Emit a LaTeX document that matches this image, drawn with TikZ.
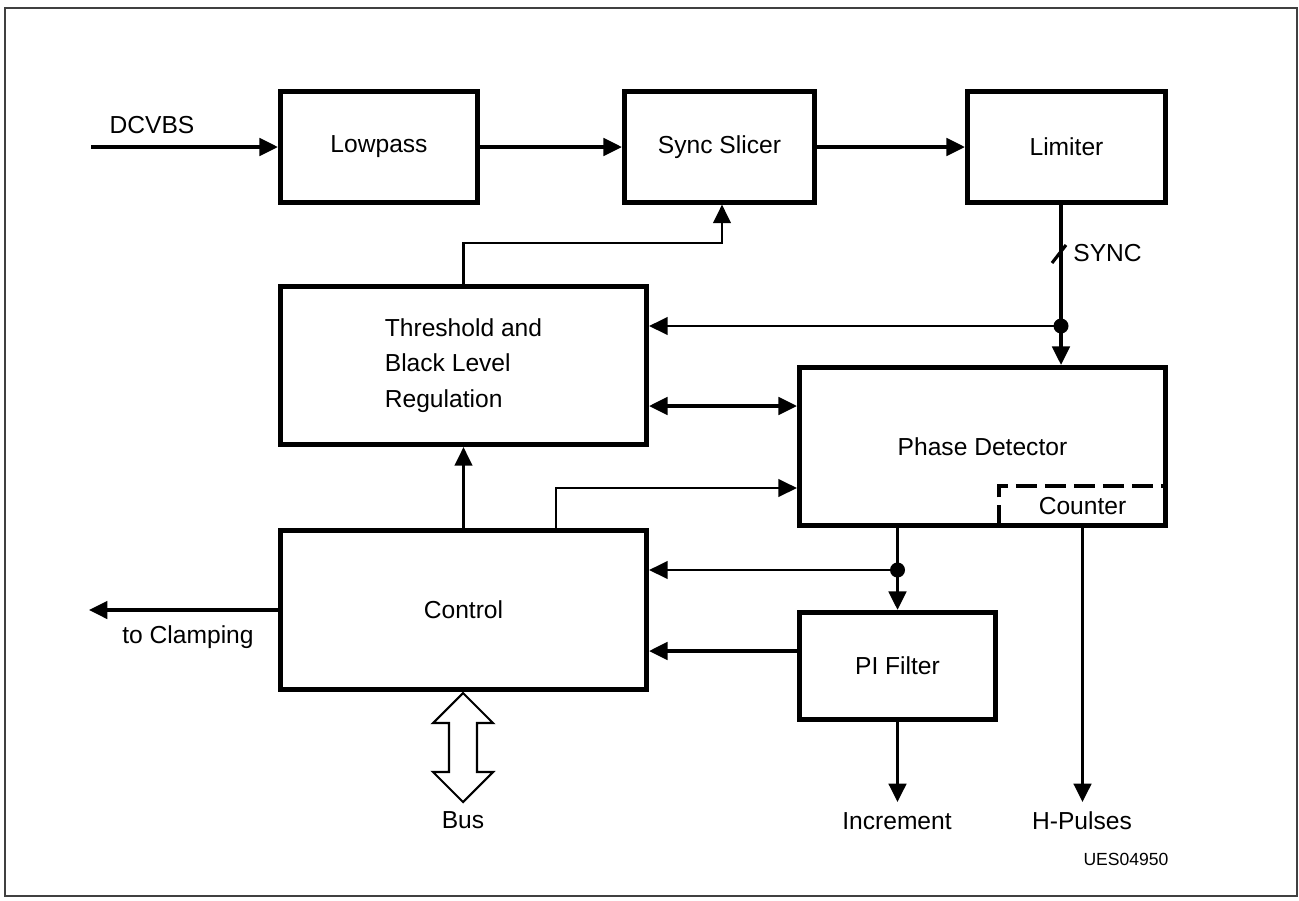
\documentclass[tikz,border=0pt]{standalone}
\usepackage{fontspec}
\setmainfont{Liberation Sans}
\usetikzlibrary{arrows.meta,calc}

\begin{document}
\begin{tikzpicture}[x=0.02cm, y=-0.02cm,
				>={Triangle[length=10.5pt,width=10pt]},
				font=\fontsize{14}{20}\selectfont,
				block/.style = {draw, line width=2.7pt, inner sep=0pt, align=center},
				wire/.style = {line width=1.8pt},
				thinwire/.style = {line width=1.2pt},
				counterline/.style = {line width=2.3pt, dash pattern=on 12pt off 4.5pt},
				dot/.style = {circle, fill, inner sep=0pt, minimum size=0.3cm},
				lbl/.style = {inner sep=0pt}
			]
			\def\busoutline{
				(463,693)
				(493,723)
				(477,723)
				(477,772)
				(493,772)
				(463,802)
				(433,772)
				(449,772)
				(449,723)
				(433,723)
			}
			\useasboundingbox (0,0) rectangle (1299,900);
			\draw[line width=0.9pt, black!75] (5,8) rectangle (1297,896);

			% blocks
			\node[block, minimum width=3.95cm, minimum height=2.21cm] (lowpass) at (379,147) {Lowpass};
			\node[block, minimum width=3.81cm, minimum height=2.21cm] (slicer) at (719.5,147) {Sync Slicer};
			\node[block, minimum width=3.97cm, minimum height=2.21cm] (limiter) at (1066.5,147) {Limiter};
			\node[block, minimum width=7.33cm, minimum height=3.17cm, align=left] (thresh) at (463.5,365.5)
				{Threshold and\\Black Level\\Regulation};
			\node[block, minimum width=7.33cm, minimum height=3.17cm] (phase) at (982.5,446.5) {Phase Detector};
			\node[block, minimum width=7.33cm, minimum height=3.19cm] (control) at (463.5,610) {Control};
			\node[block, minimum width=3.93cm, minimum height=2.15cm] (pi) at (897.5,666) {PI Filter};
			\node[minimum width=3.34cm, minimum height=0.8cm, inner sep=0pt] (counter) at (1082.5,506) {Counter};
			\draw[counterline] (counter.south west) |- (counter.north east);

			% signal path
			\coordinate (in) at (91,147);
			\node[lbl] (dcvbs) at (152,125) {DCVBS};
			\draw[wire,->] (in) -- (lowpass);
			\draw[wire,->] (lowpass) -- (slicer);
			\draw[wire,->] (slicer) -- (limiter);

			\coordinate (sync) at (1061,326);
			\draw[wire] (limiter.south -| sync) -- (sync);
			\draw[wire,->] (sync) -- (sync |- phase.north);
			\draw[thinwire,->] (sync) -- (sync -| thresh.east);
			\node[dot] (syncdot) at (sync) {};
			\draw[wire] (1052,263) -- (1066,245);
			\node[lbl, anchor=west] (synclbl) at (1073,253) {SYNC};

			\coordinate (fb) at (722,243);
			\draw[thinwire,->] (thresh.north) |- (fb) -- (fb |- slicer.south);

			\coordinate (mid) at ($(thresh.east)!.5!(phase.west)$);
			\draw[wire,<->] (thresh.east |- mid) -- (phase.west |- mid);

			\draw[thinwire,->] (control.north) -- (thresh.south);
			\coordinate (pd) at (556,488);
			\draw[thinwire,->] (pd |- control.north) -- (pd) -- (pd -| phase.west);

			\coordinate (inc) at (897.5,570);
			\draw[wire] (phase.south -| inc) -- (inc);
			\draw[wire,->] (inc) -- (pi.north);
			\draw[thinwire,->] (inc) -- (inc -| control.east);
			\node[dot] (incdot) at (inc) {};

			\coordinate (pil) at ($(pi.west)+(0,-15)$);
			\draw[wire,->] (pil) -- (pil -| control.east);

			% outputs
			\coordinate (clamp) at (89,610);
			\draw[wire,->] (control.west) -- (clamp);
			\node[lbl] (clamplbl) at (188,637) {to Clamping};

			\coordinate (incout) at (897.5,802);
			\draw[wire,->] (pi.south) -- (incout);
			\node[lbl] (inclbl) at (897,821) {Increment};

			\coordinate (hout) at (1082.5,802);
			\draw[wire,->] (counter.south) -- (hout);
			\node[lbl] (hlbl) at (1082,821) {H-Pulses};

			\draw[thinwire] plot[sharp cycle] coordinates \busoutline;
			\node[lbl] (buslbl) at (463,820) {Bus};

			\node[lbl, font=\fontsize{10}{12}\selectfont] (code) at (1126,859) {UES04950};
		\end{tikzpicture}
\end{document}
